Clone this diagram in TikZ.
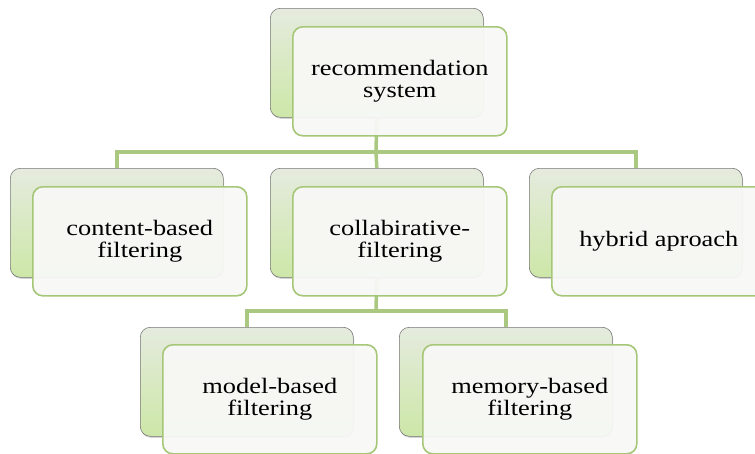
\documentclass[tikz,border=0pt]{standalone}
\usepackage{fontspec}
\setmainfont{Liberation Serif}[FakeStretch=1.2]
\usetikzlibrary{shadows}
\definecolor{backtop}{RGB}{229,235,222}
\definecolor{backbot}{RGB}{205,231,168}
\definecolor{backline}{RGB}{120,120,120}
\definecolor{frontfill}{RGB}{248,248,246}
\definecolor{frontline}{RGB}{166,198,120}
\definecolor{connline}{RGB}{170,200,128}
\tikzset{
  backbox/.style={rectangle, rounded corners=10pt, anchor=north west,
    minimum width=213pt, minimum height=109pt, inner sep=0pt,
    top color=backtop, bottom color=backbot, draw=backline, line width=0.6pt,
    drop shadow={shadow xshift=0.8pt, shadow yshift=-1.5pt, opacity=0.35}},
  frontbox/.style={rectangle, rounded corners=10pt, anchor=north west,
    minimum width=214pt, minimum height=109pt, inner sep=2pt,
    fill=frontfill, fill opacity=0.95, text opacity=1,
    draw=frontline, draw opacity=1, line width=1.6pt, align=center,
    text=black, font=\fontsize{22}{22}\selectfont},
  conn/.style={draw=connline, line width=3.5pt}
}
\begin{document}
\begin{tikzpicture}[x=1pt,y=-1pt]
\useasboundingbox (0,0) rectangle (755,453);
% back boxes
\node[backbox] (rB) at (270,8) {};
\node[backbox] (cbB) at (10,168) {};
\node[backbox] (clB) at (270,168) {};
\node[backbox] (hyB) at (529,168) {};
\node[backbox] (moB) at (140,327) {};
\node[backbox] (meB) at (399,327) {};
% junctions
\coordinate (j1) at (376,152);
\coordinate (j2) at (376,311);
% connectors
\draw[conn] (rB.south) -- (j1);
\draw[conn] (cbB.north) |- (j1);
\draw[conn] (clB.north) -- (j1);
\draw[conn] (hyB.north) |- (j1);
\draw[conn] (clB.south) -- (j2);
\draw[conn] (moB.north) |- (j2);
\draw[conn] (meB.north) |- (j2);
% front boxes
\node[frontbox] (rF) at (292,26) {recommendation\\system};
\node[frontbox] (cbF) at (32,186) {content-based\\filtering};
\node[frontbox] (clF) at (292,186) {collabirative-\\filtering};
\node[frontbox] (hyF) at (551,186) {hybrid aproach};
\node[frontbox] (moF) at (162,344) {model-based\\filtering};
\node[frontbox] (meF) at (422,344) {memory-based\\filtering};
\end{tikzpicture}
\end{document}
